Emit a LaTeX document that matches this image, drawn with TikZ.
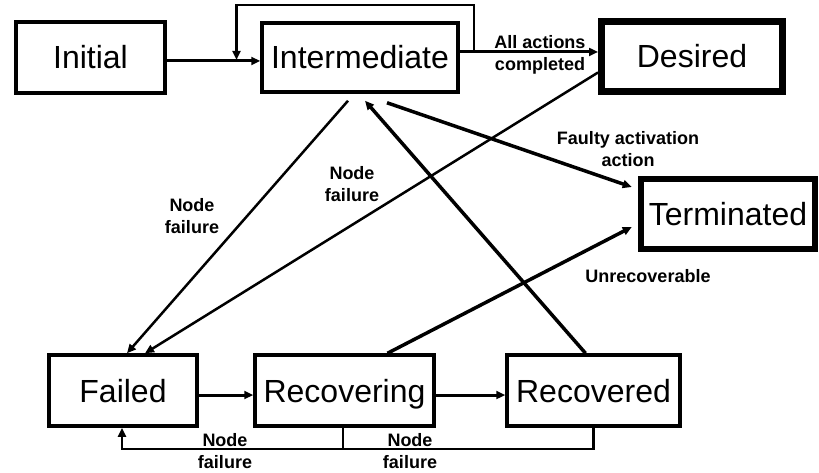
\documentclass[tikz,border=0pt]{standalone}
\usepackage{fontspec}
\setmainfont{Liberation Sans}
\usetikzlibrary{arrows.meta}

\begin{document}
\begin{tikzpicture}[x=1pt,y=-1pt,
		state/.style={draw,line width=3.5pt,minimum height=71pt,inner sep=0pt,
			text height=23pt,text depth=0pt,font=\fontsize{32}{38}\selectfont},
		lbl/.style={font=\bfseries\fontsize{18}{22}\selectfont,align=center,inner sep=0pt},
		arr/.style={line width=3pt,-{Triangle[length=9pt,width=8pt]}}]
	\useasboundingbox (0,0) rectangle (819,473);

	% States
	\node[state,minimum width=149pt,line width=4pt] (Initial) at (90.5,57.5) {Initial};
	\node[state,minimum width=196pt,minimum height=69pt] (Intermediate) at (360,57.5) {Intermediate};
	\node[state,minimum width=181pt,minimum height=70pt,line width=7pt] (Desired) at (692,56.5) {Desired};
	\node[state,minimum width=174pt,minimum height=70pt,line width=6.5pt] (Terminated) at (728,214) {Terminated};
	\node[state,minimum width=148pt] (Failed) at (123,390.5) {Failed};
	\node[state,minimum width=179pt] (Recovering) at (344.5,390.5) {Recovering};
	\node[state,minimum width=173pt] (Recovered) at (593.5,390.5) {Recovered};

	% Top row
	\draw[arr] ([yshift=-3.5pt]Initial.east) -- ([yshift=-3.5pt]Initial.east -| Intermediate.west);
	\draw[arr] ([yshift=5.5pt]Intermediate.east) -- ([yshift=5.5pt]Intermediate.east -| Desired.west);
	\node[lbl] (lblDone) at (540,55) {All actions\\completed};

	% Self loop
	\coordinate (loopStart) at (474,52);
	\coordinate (loopEnd) at (236.5,60);
	\draw[arr,line width=2.5pt] (loopStart) -- ++(0,-47) -| (loopEnd);

	% Node failures
	\draw[arr,line width=2.5pt] ([xshift=-12pt,yshift=-7pt]Intermediate.south) -- ([xshift=4pt]Failed.north);
	\node[lbl] (lblFailA) at (192,216) {Node\\failure};
	\draw[arr,line width=2.5pt] ([yshift=-16pt]Desired.west) -- ([xshift=22pt]Failed.north);
	\node[lbl] (lblFailB) at (352,184) {Node\\failure};

	% Back to intermediate
	\draw[arr,line width=3.5pt] ([xshift=-8pt]Recovered.north) -- ([xshift=5pt,yshift=-7pt]Intermediate.south);

	% Termination
	\draw[arr,line width=3.5pt] ([xshift=27pt,yshift=-9pt]Intermediate.south) -- ([xshift=-6pt,yshift=27pt]Terminated.west);
	\node[lbl] (lblFaulty) at (628,149) {Faulty activation\\action};
	\draw[arr,line width=3.5pt] ([xshift=43pt]Recovering.north) -- ([xshift=-6pt,yshift=-13pt]Terminated.west);
	\node[lbl] (lblUnrec) at (648,276) {Unrecoverable};

	% Bottom row
	\draw[arr] ([yshift=-4.5pt]Failed.east) -- ([yshift=-4.5pt]Failed.east -| Recovering.west);
	\draw[arr] ([yshift=-4.5pt]Recovering.east) -- ([yshift=-4.5pt]Recovering.east -| Recovered.west);
	\coordinate (joinPt) at (343,449);
	\draw[arr,line width=2.5pt] (joinPt |- Recovering.south) -- (joinPt) -| ([xshift=-1pt]Failed.south);
	\draw[line width=2.5pt] (Recovered.south) |- (joinPt);
	\node[lbl] (lblFailC) at (225,451) {Node\\failure};
	\node[lbl] (lblFailD) at (410,451) {Node\\failure};
\end{tikzpicture}
\end{document}
